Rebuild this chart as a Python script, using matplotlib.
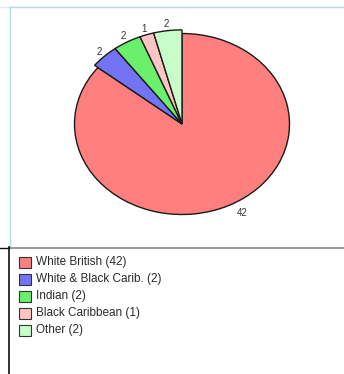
import matplotlib
matplotlib.use("Agg")
import matplotlib.pyplot as plt
from matplotlib.patches import Rectangle
from matplotlib.lines import Line2D

plt.rcParams['font.family'] = ['Liberation Sans', 'DejaVu Sans']

# data
groups = ['White British', 'White & Black Carib.', 'Indian', 'Black Caribbean', 'Other']
counts = [42, 2, 2, 1, 2]
colors = ['#ff7f7f', '#7373f5', '#6af06a', '#ffc4c4', '#c8fcc8']

W, H = 344, 374
fig = plt.figure(figsize=(W / 100, H / 100), dpi=100)
fig.patch.set_facecolor('white')

# pie placed as an ellipse (pixel geometry)
cx, cy, rx, ry = 182, 124, 107.5, 90.5
ext = 1.4
ax = fig.add_axes([(cx - rx * ext) / W, 1 - (cy + ry * ext) / H,
                   2 * rx * ext / W, 2 * ry * ext / H])
wedges, texts = ax.pie(counts, labels=[str(c) for c in counts], colors=colors,
                       startangle=90, counterclock=False, labeldistance=1.11,
                       wedgeprops=dict(edgecolor='#1a1a1a', linewidth=1.0),
                       textprops=dict(fontsize=7, color='#333333'))
for w, c in zip(wedges, counts):
    if c < max(counts):
        w.set_radius(1.04)
for t in texts:
    t.set_horizontalalignment('center')
    t.set_verticalalignment('center')
# the big slice label sits a little further round in the original
x, y = texts[0].get_position()
texts[0].set_position((x + 0.08, y + 0.02))
ax.set_aspect('auto')
ax.set_xlim(-ext, ext)
ax.set_ylim(-ext, ext)
ax.axis('off')

# legend drawn by hand
for i, (g, c, col) in enumerate(zip(groups, counts, colors)):
    yc = 262 + 17 * i
    fig.add_artist(Rectangle((19 / W, 1 - (yc + 5.5) / H), 12 / W, 11 / H,
                             transform=fig.transFigure, facecolor=col,
                             edgecolor='#333333', linewidth=0.8))
    fig.text(36 / W, 1 - yc / H, f"{g} ({c})", fontsize=8.5, color='#2a2a2a',
             va='center', ha='left')

# frame lines
def hline(y, x0, x1, col, lw=1.0):
    fig.add_artist(Line2D([x0 / W, x1 / W], [1 - y / H, 1 - y / H],
                          transform=fig.transFigure, color=col, linewidth=lw))

def vline(x, y0, y1, col, lw=1.0):
    fig.add_artist(Line2D([x / W, x / W], [1 - y0 / H, 1 - y1 / H],
                          transform=fig.transFigure, color=col, linewidth=lw))

hline(7, 9, W, '#b4dbe0')
hline(7, 0, 8, '#dcecef')
vline(9.5, 7, 247, '#b4dbe0')
hline(247.5, 9, W, '#8a8a8a', 1.2)
hline(247.5, 0, 8.5, '#111111', 1.0)
vline(8.5, 247, H, '#111111', 1.2)

fig.savefig('out.png', dpi=100)
